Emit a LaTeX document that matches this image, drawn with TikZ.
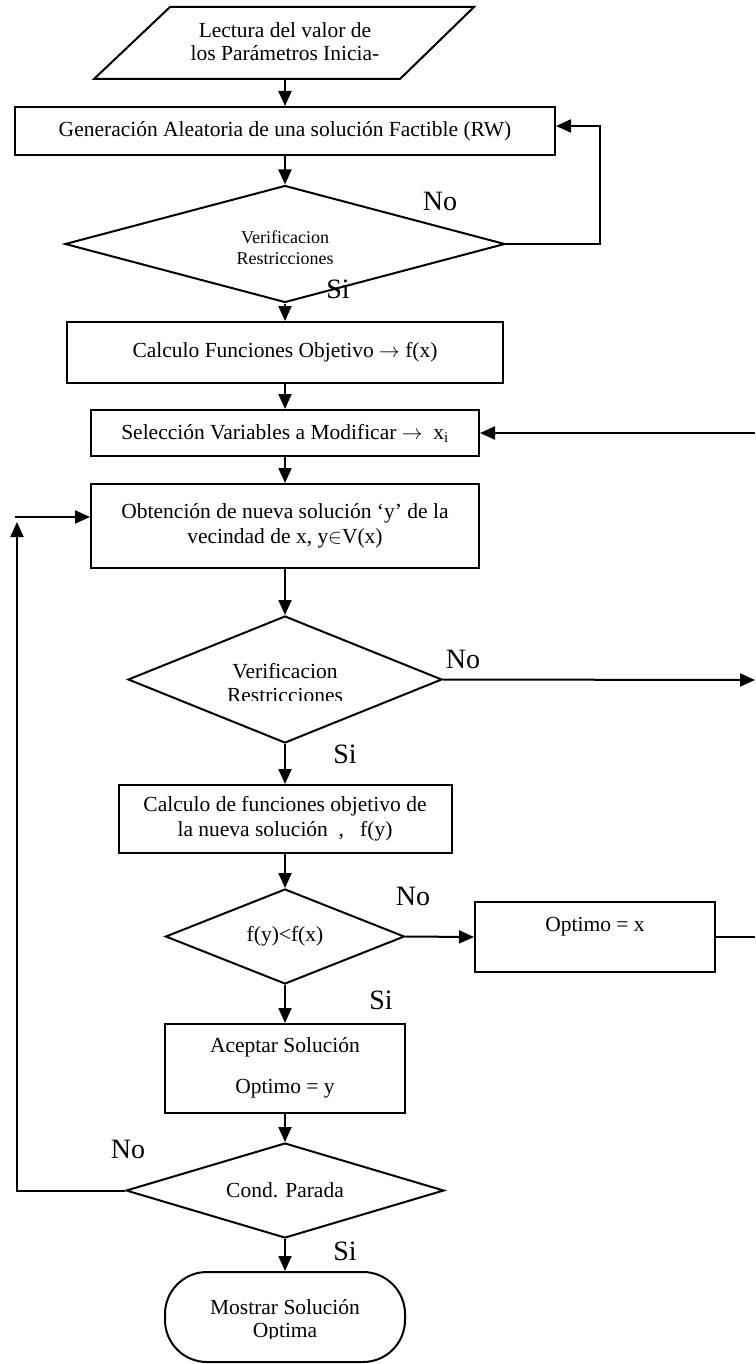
\documentclass[tikz,border=0pt]{standalone}
\usepackage{fontspec}
\setmainfont{Liberation Serif}
\usetikzlibrary{shapes.geometric,arrows.meta}
\begin{document}
\begin{tikzpicture}[x=1pt,y=-1pt,line width=2pt,
  flow/.style={-{Triangle[length=15pt,width=13pt]}},
  box/.style={draw,rectangle,inner sep=0pt,align=center,font=\fontsize{21.5}{25}\selectfont},
  dec/.style={draw,diamond,inner sep=0pt},
  txt/.style={inner sep=0pt,align=center,font=\fontsize{21.5}{24}\selectfont},
  lbl/.style={inner sep=0pt,font=\fontsize{28}{30}\selectfont},
  term/.style={draw,rectangle,rounded corners=42pt,inner sep=0pt}]
\useasboundingbox (0,0) rectangle (755,1364);

% input parallelogram
\draw (170,7) -- (474,7) -- (400,79) -- (94,79) -- cycle;
\node[txt,font=\fontsize{21.5}{23}\selectfont] (p) at (285,42) {Lectura del valor de\\los Parámetros Inicia-};
\coordinate (pb) at (285,79);

% random feasible solution
\node[box,minimum width=540pt,minimum height=48pt] (b1) at (285,131) {Generación Aleatoria de una solución Factible (RW)};
\draw[flow] (pb) -- (b1.north);

% first constraint check
\node[dec,minimum width=440pt,minimum height=117pt] (d1) at (285,244) {};
\begin{scope}
  \clip (0,0) rectangle (755,263);
  \node[txt,font=\fontsize{18}{21}\selectfont] (t1) at (285,248) {Verificacion\\Restricciones};
\end{scope}
\draw[flow] (b1.south) -- (d1.north);
\node[lbl] (n1) at (440,201) {No};
\node[lbl] (s1) at (338,289) {Si};
\coordinate (r1) at (600,126);
\draw[flow] (d1.east) -| (r1) -- (r1 -| b1.east);

% objective functions
\node[box,minimum width=436pt,minimum height=61pt] (b2) at (285,352.5) {Calculo Funciones Objetivo $\rightarrow$ f(x)};
\draw[flow] (d1.south) -- (b2.north);

% variable selection
\node[box,minimum width=388pt,minimum height=46pt] (b3) at (285,433) {Selección Variables a Modificar $\rightarrow$ \ x\textsubscript{i}};
\draw[flow] (b2.south) -- (b3.north);
\coordinate (e1) at (755,433);
\draw[flow] (e1) -- (b3.east);

% neighbour solution
\node[box,minimum width=388pt,minimum height=84pt] (b4) at (285,526) {Obtención de nueva solución ‘y’ de la\\vecindad de x, y$\in$V(x)};
\draw[flow] (b3.south) -- (b4.north);

% second constraint check
\node[dec,minimum width=314pt,minimum height=127pt] (d2) at (285,679.5) {};
\begin{scope}
  \clip (0,0) rectangle (755,700);
  \node[txt] (t2) at (285,683) {Verificacion\\Restricciones};
\end{scope}
\draw[flow] (b4.south) -- (d2.north);
\node[lbl] (n2) at (463,659) {No};
\node[lbl] (s2) at (345,754) {Si};
\coordinate (e2) at (755,680);
\draw[flow] (d2.east) -- (e2);

% new objective values
\node[box,minimum width=333pt,minimum height=68pt] (b5) at (285,819) {Calculo de funciones objetivo de\\la nueva solución \ , \ \ f(y)};
\draw[flow] (d2.south) -- (b5.north);

% comparison
\node[dec,minimum width=239pt,minimum height=95pt] (d3) at (285,936.5) {};
\node[txt] (t3) at (d3.center) {f(y)<f(x)};
\draw[flow] (b5.south) -- (d3.north);
\node[lbl] (n3) at (413,896) {No};
\node[lbl] (s3) at (381,1000) {Si};

\node[box,minimum width=240pt,minimum height=70pt] (b7) at (595,937) {};
\node[txt] (t7) at (595,927) {Optimo = x};
\draw[flow] (d3.east) -- (b7.west);
\coordinate (e3) at (755,937);
\draw (b7.east) -- (e3);

% accept
\node[box,minimum width=240pt,minimum height=89pt] (b6) at (285,1068.5) {};
\node[txt,font=\fontsize{21.5}{41}\selectfont] (t6) at (285,1067.5) {Aceptar Solución\\Optimo = y};
\draw[flow] (d3.south) -- (b6.north);

% stop condition
\node[dec,minimum width=318pt,minimum height=95pt] (d4) at (285,1190.5) {};
\node[txt] (t4) at (d4.center) {Cond. Parada};
\draw[flow] (b6.south) -- (d4.north);
\node[lbl] (n4) at (128,1149) {No};
\node[lbl] (s4) at (345,1251) {Si};
\coordinate (l1) at (17,522);
\coordinate (l2) at (15,517);
\draw[flow] (d4.west) -| (l1);
\draw[flow] (l2) -- (l2 -| b4.west);

% output
\node[term,minimum width=240pt,minimum height=90pt] (end) at (285,1317) {};
\begin{scope}
  \clip (0,0) rectangle (755,1338);
  \node[txt,font=\fontsize{21.5}{23}\selectfont] (t5) at (285,1321) {Mostrar Solución\\Optima};
\end{scope}
\draw[flow] (d4.south) -- (end.north);
\end{tikzpicture}
\end{document}
